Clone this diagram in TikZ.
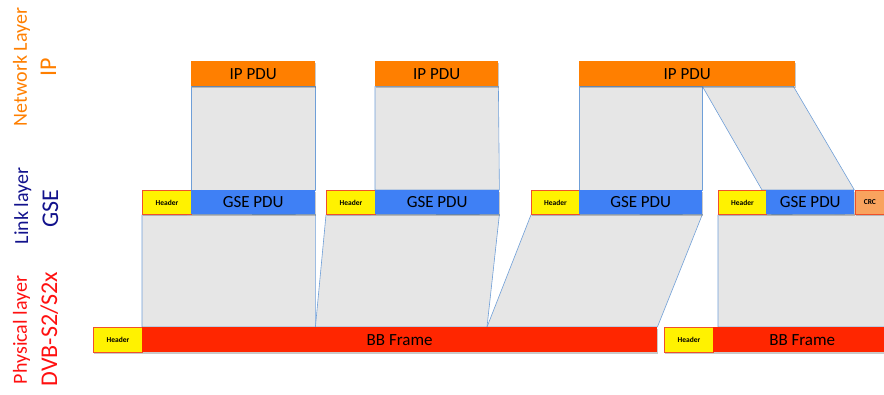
\documentclass[tikz,border=0pt]{standalone}
\usepackage{fontspec}
\setmainfont{Carlito}
\usetikzlibrary{shadows,backgrounds}
\definecolor{iporange}{HTML}{FF7F00}
\definecolor{gseblue}{HTML}{3F80F5}
\definecolor{bbred}{HTML}{FF2600}
\definecolor{hdrred}{HTML}{F0502A}
\definecolor{crcorange}{HTML}{F9A35E}
\definecolor{regfill}{HTML}{E6E6E6}
\definecolor{regline}{HTML}{6F9FD8}
\definecolor{navy}{HTML}{12128C}
\definecolor{physred}{HTML}{FF1010}
\begin{document}
\begin{tikzpicture}[x=1pt,y=-1pt,
  box/.style={anchor=north west, inner sep=0pt, minimum height=25pt, text=black,
    font=\fontsize{17}{17}\selectfont,
    drop shadow={shadow xshift=0.8pt, shadow yshift=-1.5pt, opacity=0.3, fill=black!70}},
  ipbox/.style={box, fill=iporange},
  gsebox/.style={box, fill=gseblue, minimum height=24pt},
  hdrbox/.style={box, fill=yellow, draw=hdrred, line width=0.8pt,
    font=\bfseries\fontsize{7.5}{7.5}\selectfont},
  crcbox/.style={box, fill=crcorange, draw=hdrred, line width=0.8pt, minimum height=24pt,
    font=\bfseries\fontsize{7.5}{7.5}\selectfont},
  bbbox/.style={box, fill=bbred},
  region/.style={fill=regfill, draw=regline, line width=0.6pt, line join=round},
  lablsmall/.style={rotate=90, anchor=base, inner sep=0pt, font=\fontsize{20}{20}\selectfont},
  labbig/.style={rotate=90, anchor=base, inner sep=0pt, font=\fontsize{24}{24}\selectfont}]
\useasboundingbox (0,0) rectangle (884,394);

% layer labels
\node[lablsmall, text=iporange] (lnet) at (27,67) {Network Layer};
\node[labbig, text=iporange] (lip) at (56,67) {IP};
\node[lablsmall, text=navy] (llink) at (28,206) {Link layer};
\node[labbig, text=navy] (lgse) at (58,209) {GSE};
\node[lablsmall, text=physred] (lphys) at (27,330) {Physical layer};
\node[labbig, text=physred] (ldvb) at (57,329) {DVB-S2/S2x};

\begin{scope}
\clip (0,0) rectangle (884,394);
% IP row
\node[ipbox, minimum width=124pt] (ip1) at (191,61) {IP PDU};
\node[ipbox, minimum width=123pt] (ip2) at (375,61) {IP PDU};
\node[ipbox, minimum width=216pt] (ip3) at (579,61) {IP PDU};
% GSE row
\node[hdrbox, minimum width=49pt, minimum height=24pt] (gh1) at (142,190) {Header};
\node[gsebox, minimum width=124pt] (gse1) at (191,190) {GSE PDU};
\node[hdrbox, minimum width=49pt, minimum height=24pt] (gh2) at (326,190) {Header};
\node[gsebox, minimum width=124pt] (gse2) at (375,190) {GSE PDU};
\node[hdrbox, minimum width=48pt, minimum height=24pt] (gh3) at (531,190) {Header};
\node[gsebox, minimum width=123pt] (gse3) at (579,190) {GSE PDU};
\node[hdrbox, minimum width=48pt, minimum height=24pt] (gh4) at (718,190) {Header};
\node[gsebox, minimum width=88pt] (gse4) at (766,190) {GSE PDU};
\node[crcbox, minimum width=32pt] (crc) at (855,190) {\hspace*{-3pt}CRC};
% BB row
\node[hdrbox, minimum width=49pt] (bh1) at (93,327) {Header};
\node[bbbox, minimum width=515pt] (bb1) at (142,327) {BB Frame};
\node[hdrbox, minimum width=49pt] (bh2) at (664,327) {Header};
\node[bbbox, minimum width=254pt] (bb2) at (713,327) {\hspace*{-76pt}BB Frame};
\end{scope}

\begin{scope}[on background layer]
\coordinate (s3) at (ip3.south west -| gse3.north east);
\filldraw[region] (ip1.south west) -- (ip1.south east) -- (gse1.north east) -- (gse1.north west) -- cycle;
\filldraw[region] (ip2.south west) -- (ip2.south east) -- (gse2.north east) -- (gse2.north west) -- cycle;
\filldraw[region] (ip3.south west) -- (s3) -- (gse3.north east) -- (gse3.north west) -- cycle;
\filldraw[region] (s3) -- ([xshift=-2pt]ip3.south east) -- (gse4.north east) -- ([xshift=-4pt]gse4.north west) -- cycle;

\coordinate (m1) at (gse1.south east |- bb1.north);
\coordinate (m2) at (487,327);
\coordinate (e1) at (886,214);
\coordinate (e2) at (886,327);
\filldraw[region] (gh1.south west) -- (gse1.south east) -- (m1) -- (bb1.north west) -- cycle;
\filldraw[region] (gh2.south west) -- (gse2.south east) -- (m2) -- (m1) -- cycle;
\filldraw[region] (gh3.south west) -- (gse3.south east) -- (bb1.north east) -- (m2) -- cycle;
\filldraw[region] (gh4.south west) -- (e1) -- (e2) -- (gh4.south west |- bb2.north) -- cycle;
\end{scope}
\end{tikzpicture}
\end{document}
